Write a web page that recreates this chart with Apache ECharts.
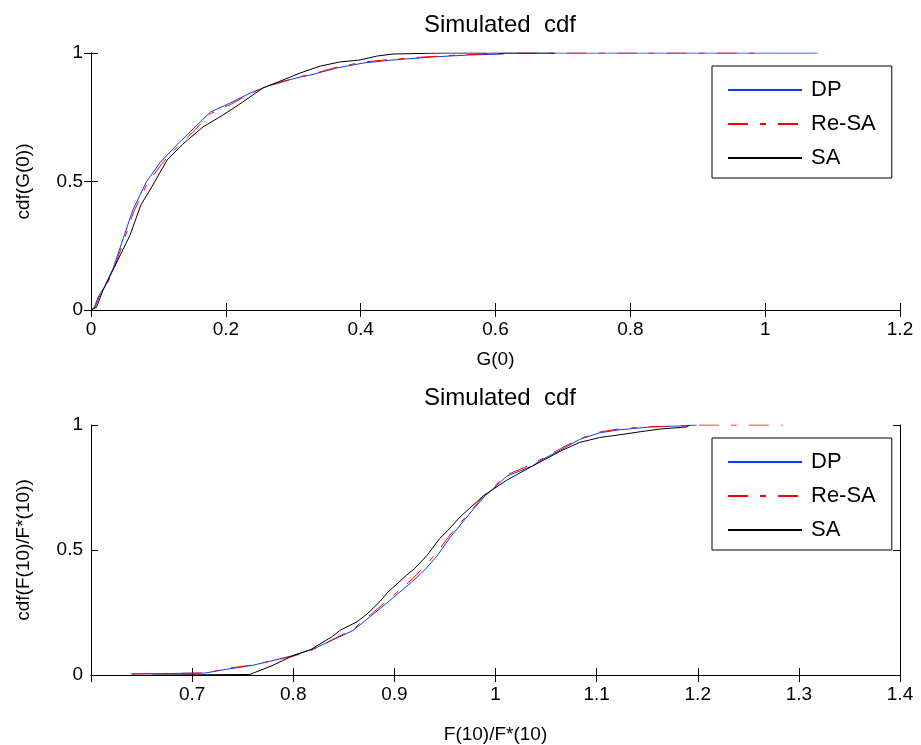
<!DOCTYPE html>
<html>
<head>
<meta charset="utf-8">
<script src="https://cdn.jsdelivr.net/npm/echarts@6/dist/echarts.min.js"></script>
<style>
html,body{margin:0;padding:0;background:#fff;}
#chart{width:921px;height:745px;}
</style>
</head>
<body>
<div id="chart"></div>
<script>
// ---- Top panel: cdf of G(0) ----
const topDP = [[0,0],[0.005,0.01],[0.0104,0.05],[0.02,0.09],[0.033,0.163],[0.047,0.272],[0.062,0.389],[0.082,0.498],[0.0875,0.518],[0.102,0.572],[0.113,0.603],[0.13,0.65],[0.147,0.693],[0.177,0.770],[0.206,0.805],[0.236,0.844],[0.266,0.875],[0.285,0.89],[0.31,0.906],[0.325,0.914],[0.365,0.942],[0.404,0.961],[0.448,0.973],[0.503,0.984],[0.558,0.992],[0.611,0.996],[0.615,1],[1.078,1]];
const topReSA = [[0,0],[0.006,0.01],[0.012,0.05],[0.022,0.09],[0.034,0.16],[0.048,0.265],[0.063,0.38],[0.083,0.49],[0.09,0.515],[0.104,0.565],[0.115,0.6],[0.132,0.645],[0.15,0.69],[0.178,0.765],[0.207,0.80],[0.236,0.842],[0.266,0.874],[0.285,0.888],[0.31,0.908],[0.325,0.916],[0.365,0.945],[0.404,0.965],[0.448,0.976],[0.503,0.986],[0.56,0.994],[0.60,0.998],[0.62,1],[0.99,1]];
const topSA = [[0,0],[0.008,0.01],[0.018,0.078],[0.04,0.195],[0.058,0.292],[0.074,0.409],[0.0875,0.467],[0.096,0.506],[0.113,0.584],[0.119,0.60],[0.136,0.645],[0.166,0.712],[0.196,0.759],[0.225,0.809],[0.255,0.864],[0.285,0.895],[0.31,0.922],[0.34,0.949],[0.369,0.965],[0.399,0.973],[0.424,0.988],[0.448,0.996],[0.52,1],[0.688,1]];

// ---- Bottom panel: cdf of F(10)/F*(10) ----
const botDP = [[0.640,0.004],[0.713,0.008],[0.734,0.023],[0.760,0.039],[0.780,0.058],[0.800,0.078],[0.820,0.105],[0.839,0.140],[0.859,0.178],[0.876,0.233],[0.899,0.310],[0.918,0.375],[0.93,0.42],[0.942,0.475],[0.955,0.55],[0.978,0.663],[0.988,0.709],[1.011,0.795],[1.037,0.837],[1.044,0.857],[1.064,0.899],[1.083,0.942],[1.103,0.969],[1.123,0.981],[1.153,0.992],[1.182,0.996],[1.199,1]];
const botReSA = [[0.640,0.004],[0.715,0.008],[0.732,0.025],[0.760,0.040],[0.780,0.058],[0.800,0.075],[0.820,0.102],[0.839,0.142],[0.859,0.182],[0.876,0.24],[0.899,0.318],[0.918,0.385],[0.93,0.435],[0.942,0.49],[0.955,0.56],[0.978,0.668],[0.988,0.715],[1.011,0.80],[1.037,0.845],[1.064,0.905],[1.083,0.945],[1.103,0.972],[1.123,0.985],[1.153,0.993],[1.19,0.997],[1.195,1],[1.284,1]];
const botSA = [[0.66,0],[0.757,0.002],[0.780,0.039],[0.800,0.078],[0.817,0.101],[0.839,0.155],[0.846,0.178],[0.863,0.213],[0.873,0.244],[0.886,0.295],[0.893,0.329],[0.912,0.399],[0.920,0.426],[0.932,0.477],[0.945,0.547],[0.952,0.575],[0.965,0.632],[0.988,0.717],[1.011,0.779],[1.037,0.837],[1.064,0.895],[1.083,0.930],[1.103,0.950],[1.123,0.961],[1.143,0.973],[1.163,0.984],[1.189,0.992],[1.192,1]];

const seriesNames = ['DP','Re-SA','SA'];
const titles = ['Simulated  cdf','Simulated  cdf'];
const xNames = ['G(0)','F(10)/F*(10)'];
const yNames = ['cdf(G(0))','cdf(F(10)/F*(10))'];

const FONT = 'Liberation Sans, Arial, sans-serif';
const colors = ['#0a3cff','#ff0000','#000000'];
const lineTypes = ['solid',[20,12,6,12],'solid'];

const grids = [
  {left:91, top:53, width:809, height:257},
  {left:91, top:425, width:809, height:258}
];

function xAxisMain(gi, min, max, interval, hideMin){
  return {
    type:'value', gridIndex:gi, min:min, max:max, interval:interval,
    name:xNames[gi], nameLocation:'middle', nameGap: gi===0?40:50,
    nameTextStyle:{color:'#000', fontFamily:FONT, fontSize:19},
    axisLine:{show:true, lineStyle:{color:'#000', width:1}},
    axisTick:{show:true, inside:true, length:7, lineStyle:{color:'#000'}},
    axisLabel:{color:'#000', fontFamily:FONT, fontSize:19, margin:10,
      formatter:function(v){ if(hideMin && Math.abs(v-min)<1e-9) return ''; return String(Math.round(v*10)/10); }},
    splitLine:{show:false}
  };
}
function xAxisMirror(gi, min, max, interval){
  return {
    type:'value', gridIndex:gi, min:min, max:max, interval:interval, position:'top',
    axisLine:{show:true, lineStyle:{color:'#000', width:1}},
    axisTick:{show:true, inside:true, length:7, lineStyle:{color:'#000'}},
    axisLabel:{show:false}, splitLine:{show:false}
  };
}
function yAxisMain(gi){
  return {
    type:'value', gridIndex:gi, min:0, max:1, interval:0.5,
    name:yNames[gi], nameLocation:'middle', nameGap:58, nameRotate:90,
    nameTextStyle:{color:'#000', fontFamily:FONT, fontSize:19},
    axisLine:{show:true, lineStyle:{color:'#000', width:1}},
    axisTick:{show:true, inside:true, length:7, lineStyle:{color:'#000'}},
    axisLabel:{color:'#000', fontFamily:FONT, fontSize:19, margin:8,
      formatter:function(v){ return String(v); }},
    splitLine:{show:false}
  };
}
function yAxisMirror(gi){
  return {
    type:'value', gridIndex:gi, min:0, max:1, interval:0.5, position:'right',
    axisLine:{show:true, lineStyle:{color:'#000', width:1}},
    axisTick:{show:true, inside:true, length:7, lineStyle:{color:'#000'}},
    axisLabel:{show:false}, splitLine:{show:false}
  };
}

const panelData = [[topDP, topReSA, topSA],[botDP, botReSA, botSA]];
const series = [];
panelData.forEach(function(sets, gi){
  sets.forEach(function(d, si){
    series.push({
      name:seriesNames[si], type:'line', xAxisIndex:gi*2, yAxisIndex:gi*2,
      data:d, showSymbol:false, symbol:'none', animation:false,
      lineStyle:{color:colors[si], width:1, type:lineTypes[si]},
      itemStyle:{color:colors[si]}, z:2+si
    });
  });
});

function legendFor(top){
  return {
    show:true,
    left:712, top:top, orient:'vertical',
    data:seriesNames.slice(),
    itemWidth:74, itemHeight:14, itemGap:12,
    padding:[13,16,9,15],
    itemStyle:{color:'rgba(0,0,0,0)', borderWidth:0, opacity:0},
    borderColor:'#000', borderWidth:1, backgroundColor:'#fff',
    textStyle:{color:'#000', fontFamily:FONT, fontSize:22, padding:[0,0,0,4]},
    selectedMode:false
  };
}

const option = {
  backgroundColor:'#fff',
  animation:false,
  title:[
    {text:titles[0], left:495, top:8, textAlign:'center', textStyle:{color:'#000', fontFamily:FONT, fontSize:24, fontWeight:'normal'}},
    {text:titles[1], left:495, top:381, textAlign:'center', textStyle:{color:'#000', fontFamily:FONT, fontSize:24, fontWeight:'normal'}}
  ],
  grid:grids,
  xAxis:[xAxisMain(0,0,1.2,0.2,false), xAxisMirror(0,0,1.2,0.2), xAxisMain(1,0.6,1.4,0.1,true), xAxisMirror(1,0.6,1.4,0.1)],
  yAxis:[yAxisMain(0), yAxisMirror(0), yAxisMain(1), yAxisMirror(1)],
  legend:[legendFor(66), legendFor(438)],
  series:series
};

const chart = echarts.init(document.getElementById('chart'), null, {renderer:'canvas'});
chart.setOption(option);
</script>
</body>
</html>
